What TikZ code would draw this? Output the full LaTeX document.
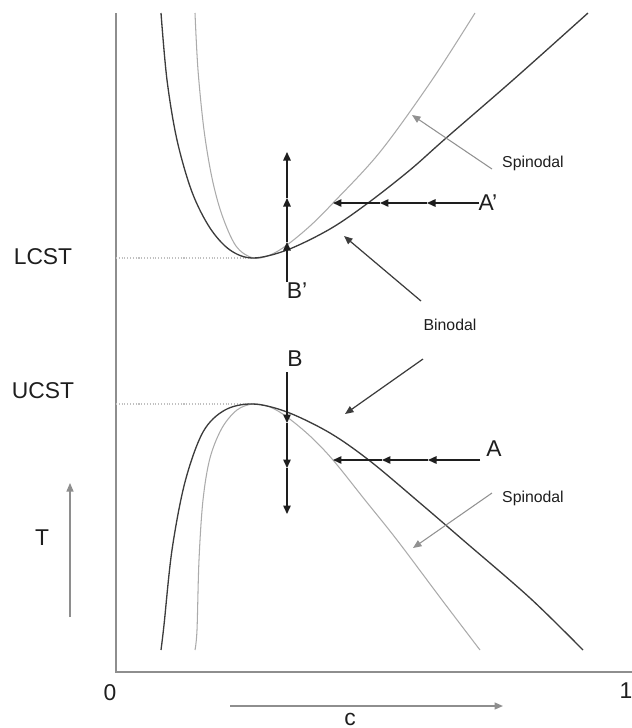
\documentclass[tikz,border=0pt]{standalone}
\usepackage{fontspec}
\setmainfont{Liberation Sans}
\usepackage{tikz}
\usetikzlibrary{arrows.meta,positioning}
\usepackage{xcolor}
\definecolor{binodal}{HTML}{3C3C3C}
\definecolor{spinodal}{HTML}{ABABAB}
\definecolor{axisgray}{HTML}{8E8E8E}
\definecolor{ink}{HTML}{1E1E1E}
\tikzset{
  axisline/.style={draw=axisgray,line width=1.2pt},
  binline/.style={draw=binodal,line width=0.75pt},
  spinline/.style={draw=spinodal,line width=0.6pt},
  critline/.style={draw=spinodal!75,line width=0.6pt,densely dotted},
  flow/.style={-{Triangle[length=1.7mm,width=1.5mm]},draw=ink,line width=0.8pt},
  dirarrow/.style={-{Triangle[length=1.7mm,width=1.4mm]},draw=axisgray,line width=0.8pt},
  pointer/.style={-{Triangle[length=1.7mm,width=1.4mm]},draw=binodal,line width=0.7pt},
  greypointer/.style={-{Triangle[length=1.7mm,width=1.4mm]},draw=spinodal!85!black,line width=0.6pt},
  biglabel/.style={font=\fontsize{13}{15}\selectfont,text=ink,inner sep=0pt},
  smalllabel/.style={font=\fontsize{9}{11}\selectfont,text=ink,inner sep=0pt}
}

\begin{document}
\begin{tikzpicture}[x=0.02cm,y=-0.02cm]
      \useasboundingbox (0,0) rectangle (632,728);
      % axes
      \coordinate (ytop) at (116,13);
      \coordinate (origin) at (116,672);
      \coordinate (xend) at (632,672);
      \draw[axisline] (ytop) -- (origin) -- (xend);
      \node[biglabel] (zero) at (110,693) {0};
      \node[biglabel] (one) at (626,691) {1};
      \coordinate (c0) at (230,706);
      \coordinate (c1) at (503,706);
      \draw[dirarrow] (c0) -- (c1);
      \node[biglabel] (clab) at (350,719) {c};
      \coordinate (t0) at (70,617);
      \coordinate (t1) at (70,483);
      \draw[dirarrow,line width=0.6pt] (t0) -- (t1);
      \node[biglabel] (tlab) at (42,538) {T};
      % critical points
      \node[biglabel] (lcst) at (43,257) {LCST};
      \node[biglabel] (ucst) at (43,391) {UCST};
      \coordinate (lc) at (253,258);
      \coordinate (uc) at (253,404);
      \draw[critline] (116,258) -- (lc);
      \draw[critline] (116,404) -- (uc);
      % upper pair
      \draw[spinline] plot[smooth,tension=0.55] coordinates {(195,13) (198,70) (204,130) (212,178) (222,215) (236,246) (253,258) (270,255) (287,245) (310,226) (333,203) (380,152) (432,80) (475,13)};
      \draw[binline] plot[smooth,tension=0.55] coordinates {(161,13) (167,80) (177,140) (192,192) (210,228) (230,250) (253,258) (287,250) (330,229) (368,203) (410,170) (445,139) (513,80) (588,13)};
      % lower pair
      \draw[spinline] plot[smooth,tension=0.55] coordinates {(195,650) (197,630) (199,560) (203,500) (210,458) (222,428) (237,410) (253,404) (270,407) (287,417) (310,436) (333,460) (365,500) (397,540) (442,600) (480,650)};
      \draw[binline] plot[smooth,tension=0.55] coordinates {(161,650) (164,625) (172,550) (185,482) (203,432) (225,410) (253,404) (287,412) (330,433) (370,461) (420,503) (463,540) (530,598) (583,650)};
      % path A'
      \coordinate (ap0) at (479,203);
      \coordinate (ap1) at (427,203);
      \coordinate (ap2) at (380,203);
      \coordinate (ap3) at (333,203);
      \draw[flow] (ap0) -- (ap1);
      \draw[flow] (ap1) -- (ap2);
      \draw[flow] (ap2) -- (ap3);
      \node[biglabel] (aprime) at (488,203) {A’};
      % path B'
      \coordinate (bp0) at (287,282);
      \coordinate (bp1) at (287,242);
      \coordinate (bp2) at (287,198);
      \coordinate (bp3) at (287,152);
      \draw[flow] (bp0) -- (bp1);
      \draw[flow] (bp1) -- (bp2);
      \draw[flow] (bp2) -- (bp3);
      \node[biglabel] (bprime) at (297,291) {B’};
      % path A
      \coordinate (a0) at (480,460);
      \coordinate (a1) at (428,460);
      \coordinate (a2) at (382,460);
      \coordinate (a3) at (333,460);
      \draw[flow] (a0) -- (a1);
      \draw[flow] (a1) -- (a2);
      \draw[flow] (a2) -- (a3);
      \node[biglabel] (alab) at (494,449) {A};
      % path B
      \coordinate (b0) at (287,372);
      \coordinate (b1) at (287,423);
      \coordinate (b2) at (287,468);
      \coordinate (b3) at (287,514);
      \draw[flow] (b0) -- (b1);
      \draw[flow] (b1) -- (b2);
      \draw[flow] (b2) -- (b3);
      \node[biglabel] (blab) at (295,359) {B};
      % curve labels
      \node[smalllabel] (spinup) at (533,163) {Spinodal};
      \node[smalllabel] (binod) at (450,325) {Binodal};
      \node[smalllabel] (spinlo) at (533,498) {Spinodal};
      \coordinate (su0) at (492,169);
      \coordinate (su1) at (412,115);
      \draw[greypointer] (su0) -- (su1);
      \coordinate (bu0) at (421,301);
      \coordinate (bu1) at (344,236);
      \draw[pointer] (bu0) -- (bu1);
      \coordinate (bl0) at (423,359);
      \coordinate (bl1) at (345,414);
      \draw[pointer] (bl0) -- (bl1);
      \coordinate (sl0) at (492,493);
      \coordinate (sl1) at (413,548);
      \draw[greypointer] (sl0) -- (sl1);
    \end{tikzpicture}
\end{document}
